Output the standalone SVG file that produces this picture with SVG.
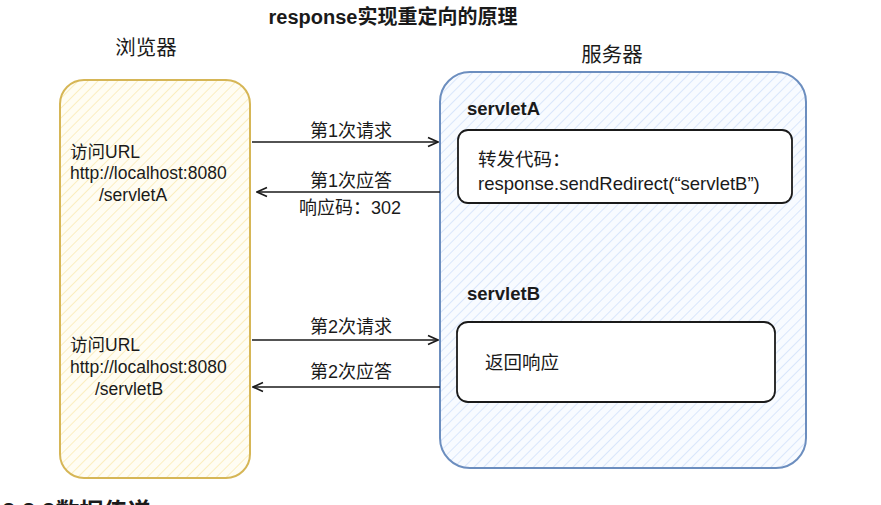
<svg xmlns="http://www.w3.org/2000/svg" width="881" height="505" viewBox="0 0 881 505">
<style>
text{font-family:"Liberation Sans","Noto Sans CJK SC",sans-serif;fill:#1a1a1a;}
.t{font-size:17.5px;}
.in{font-size:18.5px;}
.lbl{font-size:18px;text-anchor:middle;}
.b{font-weight:bold;}
.conn{stroke:#1a1a1a;stroke-width:1.6;fill:none;}
.inner{fill:#ffffff;stroke:#1a1a1a;stroke-width:1.8;}
</style>
<defs>
<pattern id="hy" patternUnits="userSpaceOnUse" width="7" height="7" patternTransform="rotate(45)">
<rect width="7" height="7" fill="#fffdf3"/>
<line x1="0" y1="0" x2="0" y2="7" stroke="#fbeec0" stroke-width="2"/>
</pattern>
<pattern id="hb" patternUnits="userSpaceOnUse" width="7" height="7" patternTransform="rotate(45)">
<rect width="7" height="7" fill="#f8fbff"/>
<line x1="0" y1="0" x2="0" y2="7" stroke="#d9e6fb" stroke-width="2"/>
</pattern>
<marker id="arr" viewBox="0 0 12 12" refX="11" refY="6" markerWidth="12" markerHeight="12" markerUnits="userSpaceOnUse" orient="auto">
<path d="M1,1.5 L11,6 L1,10.5" fill="none" stroke="#1a1a1a" stroke-width="1.6"/>
</marker>
</defs>

<text x="393" y="24" class="b" style="font-size:20px" text-anchor="middle">response实现重定向的原理</text>
<text x="146" y="55" style="font-size:20.5px" text-anchor="middle">浏览器</text>
<text x="612" y="62" style="font-size:20.5px" text-anchor="middle">服务器</text>

<g id="browser">
<rect x="60" y="80" width="190" height="398" rx="24" fill="url(#hy)" stroke="#d6b656" stroke-width="2"/>
<text x="70" y="158" class="t">访问URL</text>
<text x="70" y="179" class="t">http://localhost:8080</text>
<text x="99" y="201" class="t">/servletA</text>
<text x="70" y="351" class="t">访问URL</text>
<text x="70" y="373" class="t">http://localhost:8080</text>
<text x="95" y="395" class="t">/servletB</text>
</g>

<g id="server">
<rect x="440" y="72" width="366" height="396" rx="30" fill="url(#hb)" stroke="#6c8ebf" stroke-width="2"/>
<text x="467" y="115" class="b" style="font-size:18.5px">servletA</text>
<text x="467" y="300" class="b" style="font-size:18.5px">servletB</text>
</g>

<g id="servletA-box">
<rect x="458" y="130" width="334" height="73" rx="10" class="inner"/>
<text x="478" y="166" class="in">转发代码：</text>
<text x="478" y="190" class="in">response.sendRedirect(“servletB”)</text>
</g>

<g id="servletB-box">
<rect x="457" y="322" width="318" height="80" rx="11" class="inner"/>
<text x="485" y="369" class="in">返回响应</text>
</g>

<g id="connectors">
<line x1="252" y1="142" x2="438" y2="142" class="conn" marker-end="url(#arr)"/>
<line x1="440" y1="192" x2="257" y2="192" class="conn" marker-end="url(#arr)"/>
<line x1="252" y1="340" x2="438" y2="340" class="conn" marker-end="url(#arr)"/>
<line x1="440" y1="387" x2="253" y2="387" class="conn" marker-end="url(#arr)"/>
<text x="351" y="137" class="lbl">第1次请求</text>
<text x="351" y="187" class="lbl">第1次应答</text>
<text x="350" y="214" class="lbl">响应码：302</text>
<text x="351" y="333" class="lbl">第2次请求</text>
<text x="351" y="378" class="lbl">第2次应答</text>
</g>

<text x="2" y="520" class="b" style="font-size:24px">2.2.3数据传递</text>
</svg>
